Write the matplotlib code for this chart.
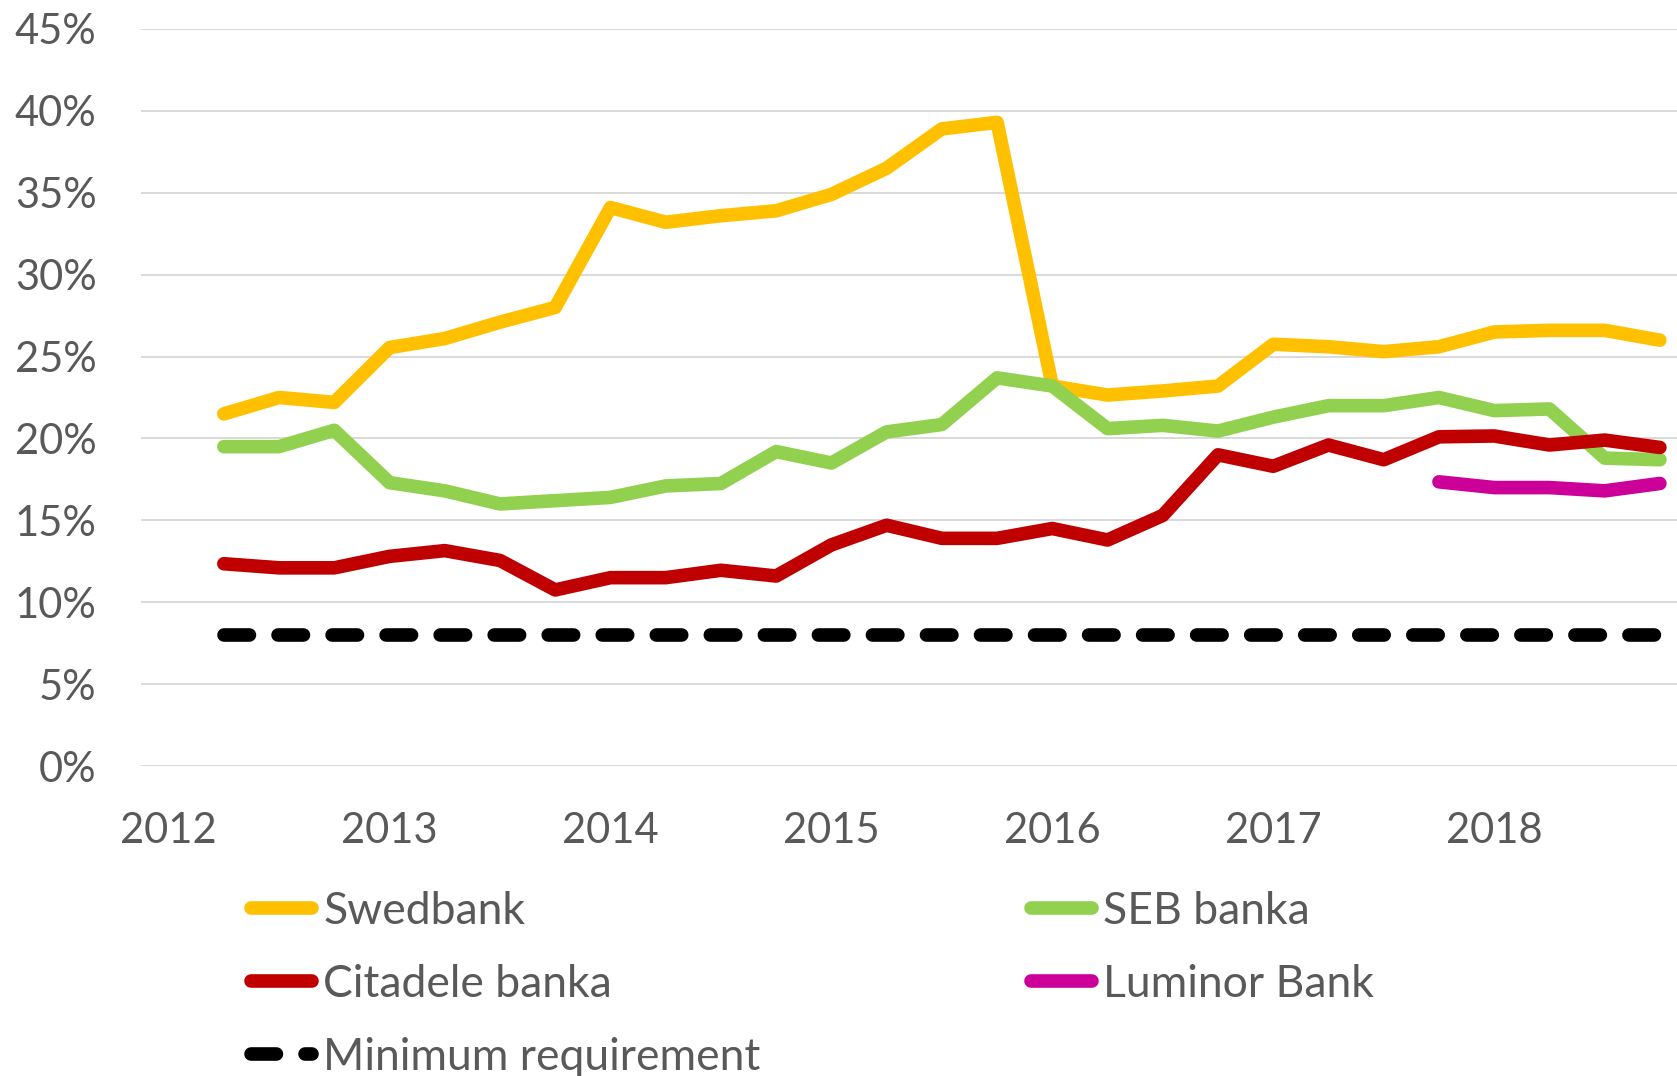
import numpy as np
import matplotlib
matplotlib.use("Agg")
import matplotlib.pyplot as plt

plt.rcParams['font.family'] = ['Lato', 'DejaVu Sans']

# quarters 2012Q2 .. 2018Q4
years = [2012]*3 + [y for y in range(2013, 2019) for q in range(4)]
qtrs = [2, 3, 4] + [q for y in range(2013, 2019) for q in range(1, 5)]

swedbank = [21.5, 22.5, 22.2, 25.55, 26.1, 27.1, 28.0, 34.1, 33.2, 33.6, 33.9, 34.9, 36.5, 38.9,
            39.3, 23.2, 22.65, 22.9, 23.2, 25.75, 25.6, 25.3, 25.6, 26.5, 26.6, 26.6, 26.0]
seb = [19.5, 19.5, 20.5, 17.3, 16.8, 16.0, 16.2, 16.4, 17.1, 17.25, 19.2, 18.5, 20.4, 20.85,
       23.7, 23.2, 20.6, 20.8, 20.45, 21.3, 22.0, 22.0, 22.5, 21.7, 21.8, 18.8, 18.7]
citadele = [12.35, 12.1, 12.1, 12.8, 13.15, 12.55, 10.75, 11.5, 11.5, 11.95, 11.6, 13.5, 14.7, 13.9,
            13.9, 14.5, 13.8, 15.3, 19.0, 18.3, 19.6, 18.7, 20.1, 20.15, 19.6, 19.9, 19.45]
luminor = [np.nan]*22 + [17.35, 17.0, 17.0, 16.8, 17.25]
min_req = [8.0]*27

year_labels = ['2012', '2013', '2014', '2015', '2016', '2017', '2018']
y_ticks = [0, 5, 10, 15, 20, 25, 30, 35, 40, 45]

x = np.array(years) + (np.array(qtrs) - 1) / 4.0

W, H = 1677, 1076
fig = plt.figure(figsize=(W/100, H/100), dpi=100)
ax = fig.add_axes([141/W, 1 - 766/H, 1 - 141/W, (766 - 29)/H])

lw = 9.8
series = [
    (swedbank, '#FFC000', 'Swedbank'),
    (seb, '#92D050', 'SEB banka'),
    (citadele, '#C00000', 'Citadele banka'),
    (luminor, '#CC0099', 'Luminor Bank'),
]
handles = {}
for vals, col, name in series:
    ln, = ax.plot(x, vals, color=col, lw=lw, solid_capstyle='round',
                  solid_joinstyle='round', label=name)
    handles[name] = ln
ln, = ax.plot(x, min_req, color='black', lw=lw, dashes=(1.87, 2.1),
              dash_capstyle='round', label='Minimum requirement')
handles['Minimum requirement'] = ln

ax.set_ylim(0, 45)
ax.set_xlim(2011.875, 2018.8275)
ax.set_yticks(y_ticks)
ax.set_yticklabels([f'{v}%' for v in y_ticks])
ax.set_xticks([int(y) for y in year_labels])
ax.set_xticklabels(year_labels)
ax.tick_params(axis='both', length=0, labelsize=30, colors='#595959')
ax.tick_params(axis='y', pad=32)
ax.tick_params(axis='x', pad=33)
ax.grid(axis='y', color='#D9D9D9', lw=1.4)
ax.set_axisbelow(True)
for s in ax.spines.values():
    s.set_visible(False)

order = ['Swedbank', 'Citadele banka', 'Minimum requirement', 'SEB banka', 'Luminor Bank']
leg = fig.legend([handles[k] for k in order], order, ncol=2, frameon=False,
                 loc='upper left', bbox_to_anchor=(251/W, 1 - 891/H),
                 fontsize=32, handlelength=1.37, handletextpad=0.25,
                 columnspacing=6.1, labelspacing=0.72, borderpad=0, borderaxespad=0)
for t in leg.get_texts():
    t.set_color('#595959')

fig.savefig('out.png', dpi=100)
